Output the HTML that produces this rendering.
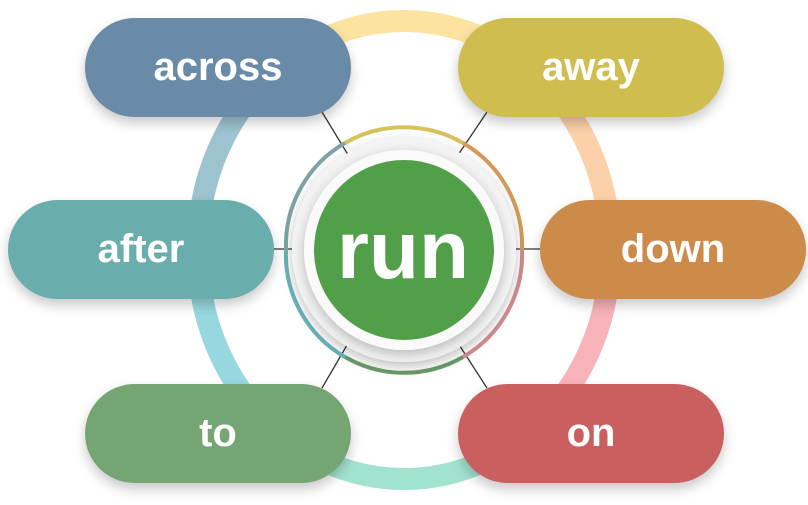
<!DOCTYPE html>
<html><head><meta charset="utf-8"><style>
html,body{margin:0;padding:0;background:#fff;}
body{width:808px;height:505px;position:relative;overflow:hidden;font-family:"Liberation Sans",sans-serif;}
.p{position:absolute;width:266px;height:99px;border-radius:50px;color:#fff;font-weight:bold;font-size:40px;display:flex;align-items:center;justify-content:center;box-shadow:0 6px 12px rgba(0,0,0,0.22);}
</style></head><body>
<svg width="808" height="505" style="position:absolute;left:0;top:0">
<defs>
<filter id="sh" x="-30%" y="-30%" width="160%" height="160%"><feDropShadow dx="0" dy="4" stdDeviation="6" flood-color="#000" flood-opacity="0.25"/></filter>
</defs>
<g fill="none" stroke-width="22">
<path d="M300 52 A206 227 0 0 1 508 52" stroke="#fce4a0"/>
<path d="M508 52 A206 227 0 0 1 610 250" stroke="#fcd0a8"/>
<path d="M610 250 A206 227 0 0 1 508 448" stroke="#f7b3b9"/>
<path d="M508 448 A206 227 0 0 1 300 448" stroke="#a2e3cf"/>
<path d="M300 448 A206 227 0 0 1 198 250" stroke="#97d8e0"/>
<path d="M198 250 A206 227 0 0 1 300 52" stroke="#9dc3d1"/>
</g>
<g stroke="#333" stroke-width="1.3">
<line x1="322" y1="112" x2="350" y2="158"/>
<line x1="487" y1="112" x2="456" y2="158"/>
<line x1="272" y1="249" x2="295" y2="249"/>
<line x1="508" y1="249" x2="540" y2="249"/>
<line x1="322" y1="388" x2="350" y2="340"/>
<line x1="487" y1="388" x2="456" y2="340"/>
</g>
<g fill="none" stroke-width="4">
<path d="M345 143 A118 118 0 0 1 463 143" stroke="#d6c35a"/>
<path d="M463 143 A118 118 0 0 1 522 250" stroke="#d59a5a"/>
<path d="M522 250 A118 118 0 0 1 463 357" stroke="#d38c8c"/>
<path d="M463 357 A118 118 0 0 1 345 357" stroke="#6a9a6a"/>
<path d="M345 357 A118 118 0 0 1 286 250" stroke="#6bb3b8"/>
<path d="M286 250 A118 118 0 0 1 345 143" stroke="#7fa4a4"/>
</g>
<circle cx="404" cy="250" r="112" fill="#f4f4f4" filter="url(#sh)"/>
<circle cx="404" cy="250" r="100" fill="#fafafa" filter="url(#sh)"/>
<circle cx="404" cy="250" r="90" fill="#519f48"/>
<text x="403" y="278" text-anchor="middle" fill="#fff" font-family="Liberation Sans, sans-serif" font-weight="bold" font-size="82">run</text>
</svg>
<div class="p" style="left:85px;top:18px;background:#6a8ba7">across</div>
<div class="p" style="left:458px;top:18px;background:#cfbd4f">away</div>
<div class="p" style="left:8px;top:200px;background:#6aadad">after</div>
<div class="p" style="left:540px;top:200px;background:#cd8b4a">down</div>
<div class="p" style="left:85px;top:384px;background:#76a574">to</div>
<div class="p" style="left:458px;top:384px;background:#c95f5e">on</div>
</body></html>
